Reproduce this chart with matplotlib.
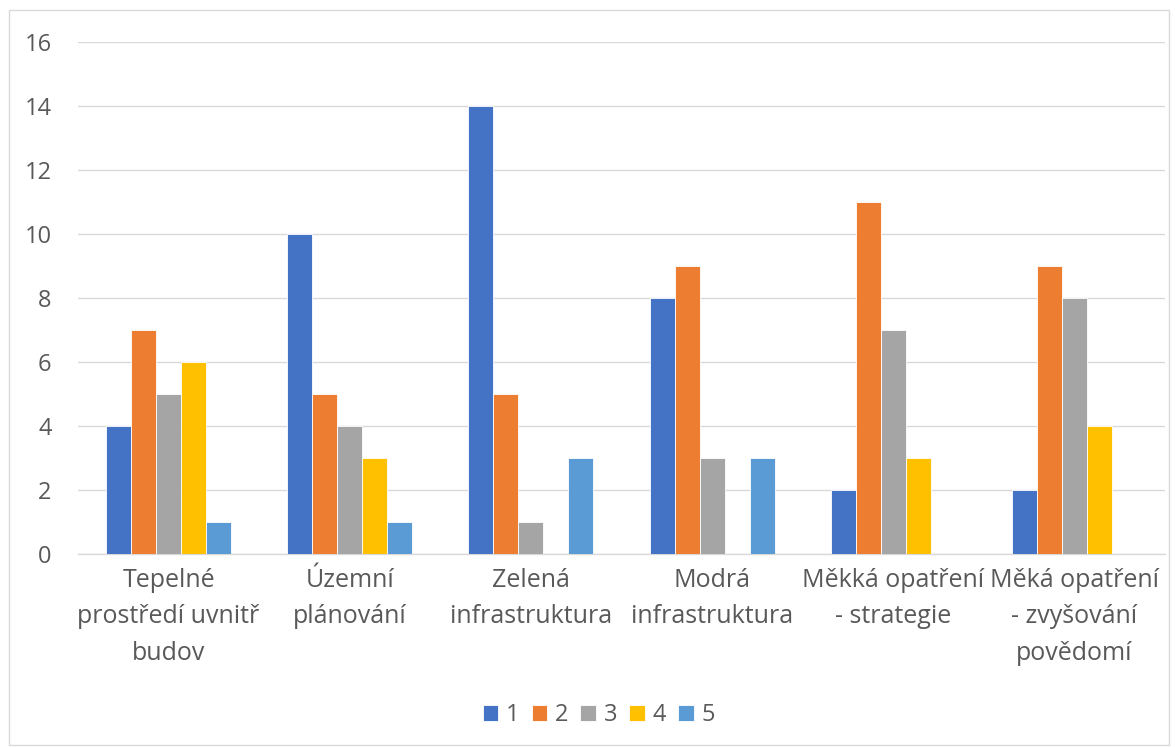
import matplotlib.pyplot as plt
from matplotlib.patches import Rectangle
import numpy as np

categories = ['Tepelné\nprostředí uvnitř\nbudov', 'Územní\nplánování', 'Zelená\ninfrastruktura',
              'Modrá\ninfrastruktura', 'Měkká opatření\n- strategie', 'Měká opatření\n- zvyšování\npovědomí']
series_names = ['1', '2', '3', '4', '5']
s1 = [4, 10, 14, 8, 2, 2]
s2 = [7, 5, 5, 9, 11, 9]
s3 = [5, 4, 1, 3, 7, 8]
s4 = [6, 3, 0, 0, 3, 4]
s5 = [1, 1, 3, 3, 0, 0]
colors = ['#4472C4', '#ED7D31', '#A5A5A5', '#FFC000', '#5B9BD5']

plt.rcParams['font.family'] = ['Open Sans', 'DejaVu Sans']
txt = '#595959'

fig = plt.figure(figsize=(11.75, 7.47), dpi=100)
fig.patches.append(Rectangle((9 / 1175, 2 / 747), 1160 / 1175, 735 / 747, transform=fig.transFigure,
                             fill=False, edgecolor='#D9D9D9', linewidth=1))
ax = fig.add_axes([78 / 1175, 1 - 554 / 747, 1087 / 1175, 512 / 747])

x = np.arange(len(categories))
w = 0.138
for i, (vals, name) in enumerate(zip([s1, s2, s3, s4, s5], series_names)):
    ax.bar(x + (i - 2) * w, vals, w, color=colors[i], edgecolor='white', linewidth=0.6,
           label=name, zorder=3)

ax.set_xlim(-0.5, 5.5)
ax.set_ylim(0, 16)
ax.set_yticks(range(0, 17, 2))
ax.grid(axis='y', color='#D9D9D9', linewidth=1, zorder=0)
for s in ['top', 'right', 'left']:
    ax.spines[s].set_visible(False)
ax.spines['bottom'].set_color('#D9D9D9')
ax.spines['bottom'].set_linewidth(1)
ax.set_xticks(x)
ax.set_xticklabels(categories, fontsize=18, color=txt, linespacing=1.6)
ax.tick_params(axis='x', length=0, pad=10)
ax.tick_params(axis='y', length=0, labelsize=17, labelcolor=txt, pad=19)

fig.legend(loc='center', bbox_to_anchor=(599 / 1175, 1 - 715 / 747), ncol=5, frameon=False,
           fontsize=17, labelcolor=txt, handlelength=0.65, handleheight=0.65,
           handletextpad=0.35, columnspacing=0.5)

plt.savefig('out.png', dpi=100)
